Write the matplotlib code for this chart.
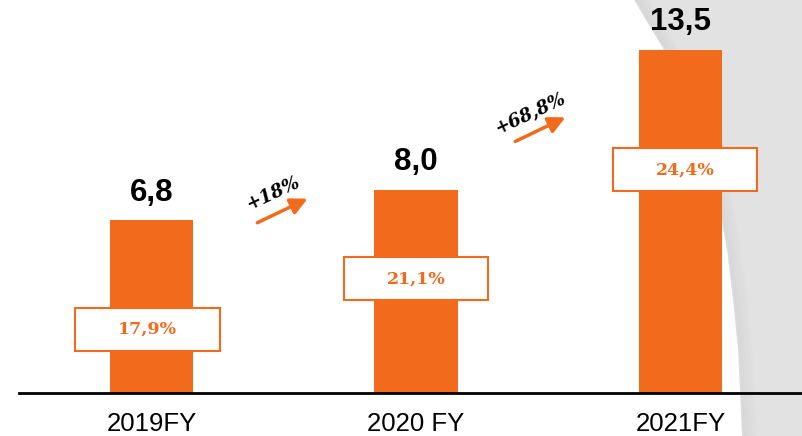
import matplotlib.pyplot as plt
import matplotlib.patches as mpatches
import numpy as np

categories = ['2019FY', '2020 FY', '2021FY']
revenue = [6.8, 8.0, 13.5]
value_labels = ['6,8', '8,0', '13,5']
margin_labels = ['17,9%', '21,1%', '24,4%']
growth_labels = ['+18%', '+68,8%']

ORANGE = '#F26A1B'

fig = plt.figure(figsize=(8.02, 4.36), dpi=100)

# background grey swoosh on the right (figure pixel coords, from top)
curve_y = np.array([0, 50, 100, 150, 200, 250, 300, 350, 436])
curve_x = np.array([634, 664, 688, 706, 718, 727, 733, 738, 742])
W, H = 802, 436
pts = [(x / W, 1 - y / H) for x, y in zip(curve_x, curve_y)]
poly = pts + [(1, 0), (1, 1)]
fig.add_artist(mpatches.Polygon(poly, closed=True, transform=fig.transFigure,
                                facecolor='#E2E2E2', edgecolor='none', zorder=0))
# soft shadow along the edge
for k in range(1, 9):
    sh = [(x + k * 0.0022, y) for x, y in pts]
    fig.add_artist(plt.Line2D([p[0] for p in sh], [p[1] for p in sh],
                              transform=fig.transFigure, color='#B0B0B0',
                              lw=2, alpha=0.12 * (9 - k) / 8, zorder=0))

ax = fig.add_axes([0, 0, 1, 1])
ax.patch.set_alpha(0)
ax.set_xlim(-0.5728, 2.4594)
ax.set_ylim(-1.693, 15.47)
ax.axis('off')

x = np.arange(len(categories))
ax.bar(x, revenue, width=0.314, color=ORANGE, zorder=2)

# baseline
ax.plot([-0.5, 2.4594], [0, 0], color='black', lw=2, zorder=3)

for xi, v, lab, cat in zip(x, revenue, value_labels, categories):
    ax.text(xi, v + 0.5, lab, ha='center', va='bottom', fontsize=22.5,
            fontweight='bold', family='Liberation Sans', color='black')
    ax.text(xi, -1.22, cat, ha='center', va='center', fontsize=18.5,
            family='Liberation Sans', color='black')

# margin boxes
box_y = [2.5, 4.5, 8.78]
box_dx = [-0.016, 0.0, 0.017]
bw, bh = 0.548, 1.69
for xi, yc, dx, lab in zip(x, box_y, box_dx, margin_labels):
    ax.add_patch(mpatches.Rectangle((xi + dx - bw / 2, yc - bh / 2), bw, bh,
                                    facecolor='white', edgecolor=ORANGE,
                                    lw=1.5, zorder=4))
    ax.text(xi + dx, yc, lab, ha='center', va='center', fontsize=12.5,
            fontweight='bold', family='DejaVu Serif', color=ORANGE, zorder=5)

# growth arrows between bars
arrow_xy = [((0.4, 6.7), (0.59, 7.65)), ((1.375, 9.9), (1.565, 10.85))]
text_xy = [(0.46, 7.85), (1.43, 11.0)]
for (s, e), (tx, ty), lab in zip(arrow_xy, text_xy, growth_labels):
    ax.annotate('', xy=e, xytext=s,
                arrowprops=dict(arrowstyle='-|>,head_length=1.0,head_width=0.5',
                                color=ORANGE, lw=2.5, shrinkA=0, shrinkB=0),
                zorder=5)
    ax.text(tx, ty, lab, ha='center', va='center', rotation=25,
            fontsize=13, fontweight='bold', fontstyle='italic',
            family='DejaVu Serif', color='black', zorder=5)

fig.savefig('out.png', dpi=100)
